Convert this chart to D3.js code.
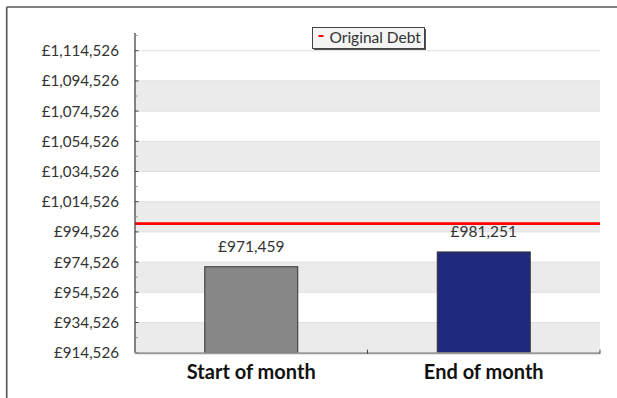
<!DOCTYPE html>
<html>
<head>
<meta charset="utf-8">
<script src="https://cdn.jsdelivr.net/npm/d3@7"></script>
<style>
  html, body { margin: 0; padding: 0; background: #fff; }
  svg { display: block; font-family: Lato, "Open Sans", sans-serif; }
</style>
</head>
<body>
<svg id="chart" width="617" height="398"></svg>
<script>
// Monthly debt balance compared with the original debt
const categories = ["Start of month", "End of month"];
const balances = [971459, 981251];
const barColors = ["#878787", "#1f2a7f"];
const originalDebt = 1000000;
const originalDebtLabel = "Original Debt";
const axisMin = 914526;
const axisMax = 1126250;
const tickStep = 20000;
const tickValues = d3.range(axisMin, 1114527, tickStep);
const minorTickValues = d3.range(axisMin + tickStep / 2, axisMax, tickStep);

const svg = d3.select("#chart");
const plot = { left: 135, right: 600, top: 33, bottom: 352.7 };

const y = d3.scaleLinear().domain([axisMin, axisMax]).range([plot.bottom, plot.top]);
const x = d3.scaleBand().domain(categories).range([plot.left, plot.right]).paddingInner(0).paddingOuter(0);
const barWidth = x.bandwidth() * 0.4;
const money = v => "£" + d3.format(",")(v);

// outer frame (top and left edges)
svg.append("line").attr("x1", 6.7).attr("x2", 617).attr("y1", 7).attr("y2", 7)
  .attr("stroke", "#555").attr("stroke-width", 1.6);
svg.append("line").attr("x1", 6.7).attr("x2", 6.7).attr("y1", 7).attr("y2", 398)
  .attr("stroke", "#555").attr("stroke-width", 1.6);

// alternating bands between major ticks
const bands = svg.append("g");
tickValues.slice(0, -1).forEach((v, i) => {
  if (i % 2 === 0) {
    bands.append("rect")
      .attr("x", plot.left).attr("width", plot.right - plot.left)
      .attr("y", y(v + tickStep)).attr("height", y(v) - y(v + tickStep))
      .attr("fill", "#ebebec");
  }
});
// gridlines
svg.append("g").selectAll("line").data(tickValues.slice(1)).join("line")
  .attr("x1", plot.left).attr("x2", plot.right)
  .attr("y1", d => y(d)).attr("y2", d => y(d))
  .attr("stroke", "#e0e0e2").attr("stroke-width", 1);

// bars
svg.append("g").selectAll("rect").data(balances).join("rect")
  .attr("x", (d, i) => x(categories[i]) + (x.bandwidth() - barWidth) / 2)
  .attr("width", barWidth)
  .attr("y", d => y(d))
  .attr("height", d => y(axisMin) - y(d))
  .attr("fill", (d, i) => barColors[i])
  .attr("stroke", "#333").attr("stroke-width", 1);

// value labels
svg.append("g").selectAll("text").data(balances).join("text")
  .attr("x", (d, i) => x(categories[i]) + x.bandwidth() / 2)
  .attr("y", d => y(d) - 15)
  .attr("text-anchor", "middle")
  .attr("font-size", 15.5)
  .attr("fill", "#333")
  .text(d => money(d));

// original debt line
svg.append("line")
  .attr("x1", plot.left).attr("x2", plot.right)
  .attr("y1", y(originalDebt)).attr("y2", y(originalDebt))
  .attr("stroke", "#ff0000").attr("stroke-width", 2.6);

// y axis
const yAxis = svg.append("g").attr("transform", `translate(${plot.left},0)`);
yAxis.append("line").attr("x1", 0).attr("x2", 0).attr("y1", plot.top).attr("y2", plot.bottom)
  .attr("stroke", "#444").attr("stroke-width", 1.3);
yAxis.selectAll("line.minor").data(minorTickValues).join("line").attr("class", "minor")
  .attr("x1", 0).attr("x2", 2.5).attr("y1", d => y(d)).attr("y2", d => y(d))
  .attr("stroke", "#888").attr("stroke-width", 1);
yAxis.selectAll("line.major").data(tickValues).join("line").attr("class", "major")
  .attr("x1", 0).attr("x2", 3.5).attr("y1", d => y(d)).attr("y2", d => y(d))
  .attr("stroke", "#444").attr("stroke-width", 1);
yAxis.selectAll("text").data(tickValues).join("text")
  .attr("x", -16).attr("y", d => y(d)).attr("dy", "0.36em")
  .attr("text-anchor", "end")
  .attr("font-size", 15.2)
  .attr("fill", "#333")
  .text(d => money(d));

// x axis
const xAxis = svg.append("g");
xAxis.append("line").attr("x1", plot.left).attr("x2", plot.right)
  .attr("y1", plot.bottom + 0.5).attr("y2", plot.bottom + 0.5)
  .attr("stroke", "#999").attr("stroke-width", 2);
xAxis.selectAll("line.tick").data(categories.slice(1).concat([null])).join("line").attr("class", "tick")
  .attr("x1", d => d ? x(d) : plot.right).attr("x2", d => d ? x(d) : plot.right)
  .attr("y1", plot.bottom - 3).attr("y2", plot.bottom + 1)
  .attr("stroke", "#444").attr("stroke-width", 1);
xAxis.selectAll("text").data(categories).join("text")
  .attr("x", d => x(d) + x.bandwidth() / 2)
  .attr("y", plot.bottom + 26)
  .attr("text-anchor", "middle")
  .attr("font-size", 20)
  .attr("font-weight", "bold")
  .attr("fill", "#111")
  .text(d => d);

// legend
const legend = svg.append("g").attr("transform", "translate(312.5,27.5)");
legend.append("rect").attr("x", 1.5).attr("y", 1.5).attr("width", 112).attr("height", 21)
  .attr("fill", "#555");
legend.append("rect").attr("width", 112).attr("height", 21)
  .attr("fill", "#f4f4f4").attr("stroke", "#444").attr("stroke-width", 1);
legend.append("line").attr("x1", 6).attr("x2", 11).attr("y1", 8.5).attr("y2", 8.5)
  .attr("stroke", "#ff0000").attr("stroke-width", 2);
legend.append("text").attr("x", 17).attr("y", 15.5)
  .attr("font-size", 15.5).attr("fill", "#333")
  .text(originalDebtLabel);
</script>
</body>
</html>
